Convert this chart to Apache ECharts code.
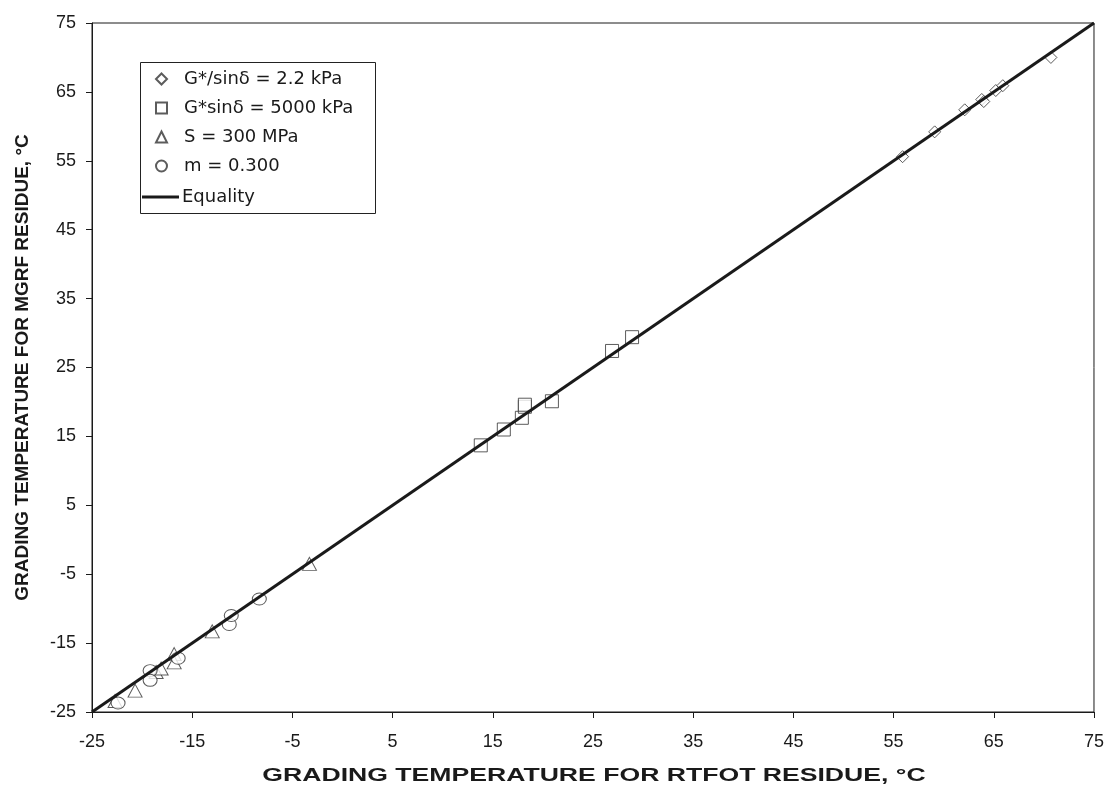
<!DOCTYPE html>
<html><head><meta charset="utf-8">
<script src="https://cdn.jsdelivr.net/npm/echarts@6/dist/echarts.min.js"></script>
<style>html,body{margin:0;padding:0;background:#fff}#c{width:1107px;height:794px}</style>
</head><body><div id="c"></div>
<script>
const xTitle = 'GRADING TEMPERATURE FOR RTFOT RESIDUE, °C';
const yTitle = 'GRADING TEMPERATURE FOR MGRF RESIDUE, °C';
const seriesNames = ['G*/sinδ = 2.2 kPa', 'G*sinδ = 5000 kPa', 'S = 300 MPa', 'm = 0.300', 'Equality'];
const diamondPts = [[55.9,55.6],[59.1,59.2],[62.1,62.4],[63.8,63.9],[64.0,63.6],[65.2,65.2],[65.9,65.9],[70.7,70.0]];
const squarePts = [[13.8,13.7],[16.1,16.0],[17.9,17.7],[18.2,19.3],[18.2,19.6],[20.9,20.1],[26.9,27.4],[28.9,29.4]];
const trianglePts = [[-22.7,-23.4],[-20.7,-21.9],[-18.6,-19.2],[-18.1,-18.7],[-16.8,-16.6],[-16.8,-17.8],[-13.0,-13.3],[-3.3,-3.5]];
const circlePts = [[-22.4,-23.7],[-19.2,-19.0],[-19.2,-20.4],[-16.4,-17.2],[-11.3,-12.3],[-11.1,-11.0],[-8.3,-8.6]];
const equalityPts = [[-25,-25],[75,75]];
const axisMin = -25, axisMax = 75, axisStep = 10;

const chart = echarts.init(document.getElementById('c'), null, {renderer:'canvas'});
const font = 'DejaVu Sans, Liberation Sans, sans-serif';
const sans = 'Liberation Sans, Arial, sans-serif';
const ink = '#1a1a1a';
const mk = (name, sym, size, data) => ({
  name, type:'scatter', data, symbol:sym, symbolSize:size,
  itemStyle:{color:'#fff', borderColor:'#333', borderWidth:1}, z:3
});
chart.setOption({
  animation:false,
  backgroundColor:'#fff',
  grid:{left:92, right:12, top:23, bottom:82, show:true, borderColor:ink, borderWidth:1, backgroundColor:'transparent'},
  xAxis:{type:'value', min:axisMin, max:axisMax, interval:axisStep,
    axisLine:{show:true, onZero:false, lineStyle:{color:ink, width:1}},
    axisTick:{show:true, inside:false, length:6, lineStyle:{color:ink}},
    axisLabel:{fontFamily:sans, fontSize:18, color:ink, margin:21},
    splitLine:{show:false}},
  yAxis:{type:'value', min:axisMin, max:axisMax, interval:axisStep,
    name:yTitle, nameLocation:'middle', nameGap:60, nameRotate:90,
    nameTextStyle:{fontFamily:sans, fontWeight:'bold', fontSize:19, color:ink},
    axisLine:{show:true, onZero:false, lineStyle:{color:ink, width:1}},
    axisTick:{show:true, inside:false, length:6, lineStyle:{color:ink}},
    axisLabel:{fontFamily:sans, fontSize:18, color:ink, margin:16},
    splitLine:{show:false}},
  graphic:[
    {type:'rect', left:140, top:62, shape:{width:235, height:151},
      style:{fill:'#fff', stroke:'#222', lineWidth:1}, z:10, silent:true},
    {type:'text', x:594, y:776, scaleX:1.4, scaleY:1, z:10, silent:true,
      style:{text:xTitle, align:'center', verticalAlign:'middle', fill:ink,
        font:'bold 19px Liberation Sans, Arial, sans-serif'}}
  ],
  legend:[
    {orient:'vertical', left:150, top:65, itemGap:11, itemWidth:11, itemHeight:11,
      textStyle:{fontFamily:font, fontSize:18, color:ink, padding:[0,0,0,12]}, z:20,
      data:[{name:seriesNames[0], icon:'diamond'},{name:seriesNames[1], icon:'rect'},
            {name:seriesNames[2], icon:'triangle'},{name:seriesNames[3], icon:'circle'}]},
    {orient:'vertical', left:137, top:183, itemWidth:37, itemHeight:3, z:20,
      textStyle:{fontFamily:font, fontSize:18, color:ink, padding:[0,0,0,-2]},
      data:[{name:seriesNames[4], icon:'rect'}]}
  ],
  series:[
    mk(seriesNames[0], 'diamond', [12,12], diamondPts),
    mk(seriesNames[1], 'rect', [13,13], squarePts),
    mk(seriesNames[2], 'triangle', [14,13], trianglePts),
    mk(seriesNames[3], 'circle', [14,12], circlePts),
    {name:seriesNames[4], type:'line', data:equalityPts, showSymbol:false, symbol:'none',
      lineStyle:{color:ink, width:3}, itemStyle:{color:ink}, z:4}
  ]
});
</script></body></html>
